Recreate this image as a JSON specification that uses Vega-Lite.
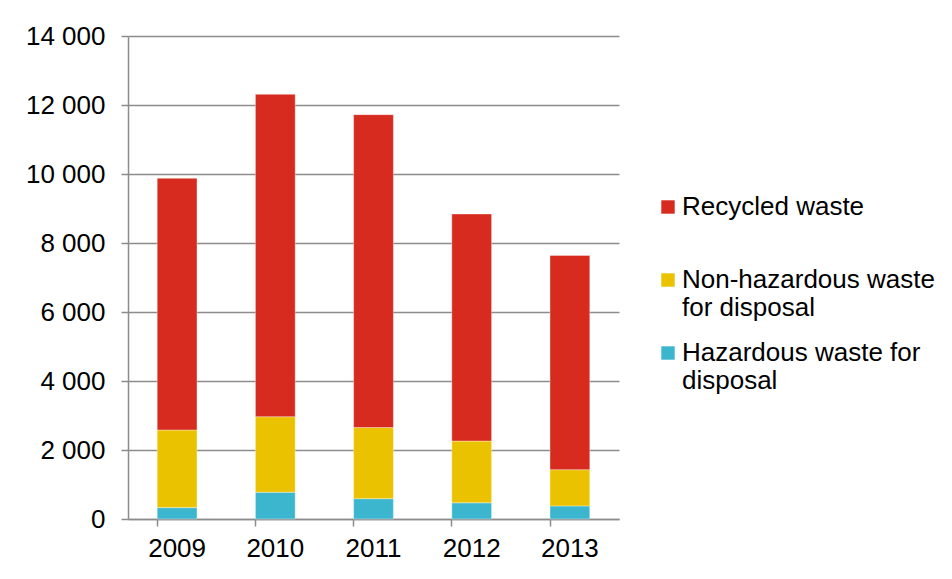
{
  "$schema": "https://vega.github.io/schema/vega-lite/v6.json",
  "width": 491,
  "height": 483,
  "autosize": "none",
  "padding": {"left": 128, "top": 36, "right": 333, "bottom": 60},
  "background": "white",
  "config": {"view": {"stroke": null}, "font": "Liberation Sans"},
  "data": {
    "values": [
      {"year": "2009", "category": "Hazardous waste for disposal", "ord": 1, "value": 330},
      {"year": "2009", "category": "Non-hazardous waste for disposal", "ord": 2, "value": 2250},
      {"year": "2009", "category": "Recycled waste", "ord": 3, "value": 7295},
      {"year": "2010", "category": "Hazardous waste for disposal", "ord": 1, "value": 775},
      {"year": "2010", "category": "Non-hazardous waste for disposal", "ord": 2, "value": 2190},
      {"year": "2010", "category": "Recycled waste", "ord": 3, "value": 9345},
      {"year": "2011", "category": "Hazardous waste for disposal", "ord": 1, "value": 590},
      {"year": "2011", "category": "Non-hazardous waste for disposal", "ord": 2, "value": 2060},
      {"year": "2011", "category": "Recycled waste", "ord": 3, "value": 9070},
      {"year": "2012", "category": "Hazardous waste for disposal", "ord": 1, "value": 470},
      {"year": "2012", "category": "Non-hazardous waste for disposal", "ord": 2, "value": 1790},
      {"year": "2012", "category": "Recycled waste", "ord": 3, "value": 6580},
      {"year": "2013", "category": "Hazardous waste for disposal", "ord": 1, "value": 380},
      {"year": "2013", "category": "Non-hazardous waste for disposal", "ord": 2, "value": 1050},
      {"year": "2013", "category": "Recycled waste", "ord": 3, "value": 6210}
    ]
  },
  "mark": {"type": "bar", "stroke": "white", "strokeWidth": 0.6, "strokeOpacity": 0.6},
  "encoding": {
    "x": {
      "field": "year",
      "type": "nominal",
      "scale": {"paddingInner": 0.595, "paddingOuter": 0.2975},
      "axis": {
        "title": null,
        "labelAngle": 0,
        "labelFontSize": 26,
        "labelColor": "black",
        "domainColor": "#8c8c8c",
        "domainWidth": 1.5,
        "tickColor": "#8c8c8c",
        "tickWidth": 1.5,
        "tickSize": 7,
        "bandPosition": 0,
        "labelPadding": 9
      }
    },
    "y": {
      "field": "value",
      "type": "quantitative",
      "stack": "zero",
      "scale": {"domain": [0, 14000], "nice": false},
      "axis": {
        "title": null,
        "values": [0, 2000, 4000, 6000, 8000, 10000, 12000, 14000],
        "labelExpr": "replace(format(datum.value, ','), ',', ' ')",
        "labelFontSize": 26,
        "labelColor": "black",
        "labelPadding": 16,
        "grid": true,
        "gridColor": "#8c8c8c",
        "gridWidth": 1.5,
        "domainColor": "#8c8c8c",
        "domainWidth": 1.5,
        "tickColor": "#8c8c8c",
        "tickWidth": 1.5,
        "tickSize": 7
      }
    },
    "color": {
      "field": "category",
      "type": "nominal",
      "scale": {
        "domain": ["Recycled waste", "Non-hazardous waste for disposal", "Hazardous waste for disposal"],
        "range": ["#d62b1e", "#eac200", "#3cb6ce"]
      },
      "legend": {
        "title": null,
        "orient": "none",
        "legendX": 527,
        "legendY": 158,
        "symbolType": "square",
        "symbolSize": 180,
        "symbolStrokeWidth": 0,
        "labelFontSize": 26,
        "labelColor": "black",
        "labelLimit": 0,
        "labelOffset": 1,
        "rowPadding": 19,
        "labelExpr": "datum.label == 'Non-hazardous waste for disposal' ? ['Non-hazardous waste', 'for disposal'] : datum.label == 'Hazardous waste for disposal' ? ['Hazardous waste for', 'disposal'] : [datum.label, ' ']"
      }
    },
    "order": {"field": "ord", "type": "quantitative"}
  }
}
